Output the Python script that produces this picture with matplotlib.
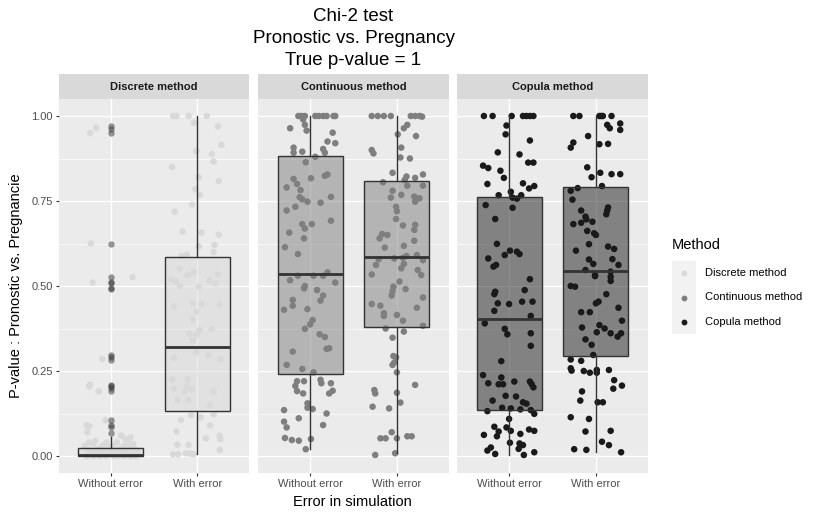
import matplotlib
matplotlib.use("Agg")
import matplotlib.pyplot as plt
from matplotlib.lines import Line2D
from matplotlib.patches import Rectangle

plt.rcParams['font.family'] = ['Liberation Sans', 'DejaVu Sans']

methods = ["Discrete method", "Continuous method", "Copula method"]
errors = ["Without error", "With error"]
colors = ["#d9d9d9", "#7f7f7f", "#1a1a1a"]

# box statistics, per method: [without error, with error]
whis_lo = [[0.0, 0.005], [0.02, 0.01], [0.003, 0.012]]
q1 = [[0.0, 0.132], [0.24, 0.38], [0.135, 0.293]]
med = [[0.002, 0.322], [0.535, 0.586], [0.403, 0.545]]
q3 = [[0.025, 0.584], [0.883, 0.81], [0.762, 0.79]]
whis_hi = [[0.057, 1.0], [1.0, 1.0], [1.0, 1.0]]
disc_outliers = [0.97, 0.961, 0.951, 0.625, 0.526, 0.511, 0.508, 0.493, 0.49,
                 0.297, 0.29, 0.283, 0.21, 0.205, 0.2, 0.19, 0.105, 0.09,
                 0.086, 0.067]

# jittered points: (offset from the category, p-value)
disc_without = [
    (-0.24, 0.95), (-0.17, 0.965), (-0.23, 0.625), (-0.21, 0.51), (0.25, 0.526),
    (-0.10, 0.285), (-0.25, 0.205), (-0.24, 0.21), (-0.14, 0.19), (-0.28, 0.09),
    (-0.25, 0.088), (-0.27, 0.07), (-0.06, 0.105), (0.12, 0.06), (0.17, 0.05),
    (0.23, 0.055), (0.26, 0.035), (-0.30, 0.03), (-0.27, 0.02), (-0.25, 0.04),
    (-0.22, 0.01), (-0.20, 0.035), (-0.18, 0.045), (-0.15, 0.02), (-0.12, 0.005),
    (-0.10, 0.03), (-0.08, 0.012), (-0.05, 0.04), (-0.03, 0.02), (0.0, 0.008),
    (0.02, 0.03), (0.05, 0.015), (0.07, 0.04), (0.10, 0.02), (0.12, 0.005),
    (0.15, 0.03), (0.18, 0.01), (0.20, 0.045), (0.22, 0.025), (0.25, 0.005),
    (0.28, 0.02), (0.30, 0.01), (-0.28, 0.0), (-0.20, 0.0), (-0.13, 0.0),
    (-0.06, 0.0), (0.03, 0.0), (0.09, 0.0), (0.16, 0.0), (0.23, 0.0),
    (0.29, 0.0), (-0.16, 0.01), (0.06, 0.005), (-0.23, 0.015), (0.13, 0.015),
    (-0.01, 0.025), (0.19, 0.035),
]
disc_with = [
    (-0.28, 1.0), (-0.24, 1.0), (-0.10, 1.0), (0.11, 1.0), (-0.04, 0.98),
    (0.24, 0.97), (0.28, 0.915), (-0.01, 0.897), (0.17, 0.888), (0.19, 0.866),
    (-0.29, 0.85), (0.02, 0.82), (0.25, 0.809), (-0.02, 0.785), (0.03, 0.768),
    (-0.06, 0.739), (-0.26, 0.719), (-0.17, 0.66), (0.05, 0.657), (0.25, 0.651),
    (0.20, 0.621), (0.02, 0.616), (0.19, 0.60), (-0.18, 0.588), (-0.12, 0.592),
    (-0.20, 0.55), (-0.04, 0.54), (-0.11, 0.532), (0.24, 0.534), (-0.30, 0.52),
    (-0.25, 0.515), (0.14, 0.516), (0.21, 0.508), (-0.20, 0.50), (0.02, 0.497),
    (-0.27, 0.44), (-0.05, 0.449), (0.05, 0.447), (0.26, 0.445), (-0.01, 0.424),
    (-0.05, 0.402), (0.17, 0.374), (-0.09, 0.36), (0.03, 0.37), (-0.01, 0.355),
    (-0.05, 0.34), (-0.27, 0.289), (-0.01, 0.305), (0.13, 0.297), (0.27, 0.285),
    (-0.29, 0.225), (-0.11, 0.225), (-0.12, 0.204), (-0.06, 0.195), (-0.14, 0.19),
    (0.19, 0.19), (-0.27, 0.198), (-0.23, 0.165), (-0.10, 0.166), (0.15, 0.15),
    (-0.19, 0.106), (-0.07, 0.12), (0.04, 0.113), (0.15, 0.09), (0.19, 0.123),
    (-0.24, 0.072), (0.26, 0.06), (0.27, 0.05), (0.10, 0.052), (-0.23, 0.033),
    (-0.10, 0.033), (0.26, 0.018), (-0.28, 0.005), (-0.22, 0.005), (-0.13, 0.008),
    (-0.08, 0.007), (-0.04, 0.005),
]
cont_without = [
    (-0.135, 1.0), (-0.10, 1.0), (-0.06, 1.0), (0.06, 1.0), (0.10, 1.0),
    (0.15, 1.0), (0.19, 1.0), (0.27, 1.0), (0.29, 1.0), (-0.08, 0.99),
    (-0.06, 0.974), (-0.04, 0.957), (-0.23, 0.964), (0.26, 0.951), (0.20, 0.925),
    (0.29, 0.92), (-0.19, 0.907), (-0.09, 0.895), (-0.19, 0.892), (0.15, 0.903),
    (0.17, 0.892), (0.06, 0.88), (-0.05, 0.864), (0.17, 0.824), (0.20, 0.828),
    (0.01, 0.817), (-0.19, 0.815), (-0.15, 0.80), (-0.27, 0.79), (-0.11, 0.782),
    (-0.12, 0.761), (-0.09, 0.755), (-0.03, 0.748), (0.24, 0.762), (0.12, 0.745),
    (-0.17, 0.733), (-0.27, 0.722), (0.24, 0.692), (-0.09, 0.682), (-0.06, 0.669),
    (0.02, 0.682), (-0.24, 0.657), (-0.07, 0.64), (-0.29, 0.614), (-0.14, 0.594),
    (-0.23, 0.517), (-0.14, 0.53), (0.04, 0.53), (0.15, 0.53), (0.29, 0.51),
    (0.20, 0.54), (-0.07, 0.493), (-0.06, 0.50), (0.08, 0.488), (0.15, 0.472),
    (0.12, 0.457), (-0.20, 0.459), (-0.20, 0.442), (-0.30, 0.43), (-0.03, 0.432),
    (0.03, 0.40), (0.0, 0.387), (-0.06, 0.374), (0.11, 0.358), (0.17, 0.35),
    (0.19, 0.315), (0.22, 0.317), (-0.20, 0.307), (-0.27, 0.268), (-0.09, 0.256),
    (0.04, 0.246), (-0.15, 0.22), (-0.07, 0.22), (0.12, 0.224), (0.13, 0.214),
    (0.24, 0.214), (-0.17, 0.206), (-0.15, 0.191), (-0.08, 0.184), (0.22, 0.184),
    (0.26, 0.192), (-0.03, 0.155), (-0.03, 0.142), (0.03, 0.138), (-0.30, 0.135),
    (0.19, 0.125), (-0.13, 0.111), (-0.30, 0.101), (-0.27, 0.084), (0.15, 0.091),
    (-0.29, 0.053), (-0.21, 0.047), (-0.13, 0.045), (0.01, 0.05), (-0.05, 0.02),
]
cont_with = [
    (-0.29, 1.0), (-0.22, 1.0), (-0.15, 1.0), (-0.07, 1.0), (0.16, 1.0),
    (0.21, 1.0), (0.26, 1.0), (0.29, 0.998), (0.12, 0.974), (0.08, 0.964),
    (0.01, 0.946), (0.22, 0.941), (0.05, 0.907), (-0.29, 0.90), (-0.27, 0.89),
    (0.04, 0.878), (0.15, 0.875), (-0.05, 0.833), (0.30, 0.828), (0.11, 0.822),
    (0.21, 0.818), (0.09, 0.812), (-0.16, 0.805), (0.12, 0.795), (0.30, 0.795),
    (-0.05, 0.78), (-0.07, 0.76), (0.05, 0.768), (0.20, 0.763), (0.26, 0.758),
    (0.21, 0.748), (-0.01, 0.733), (0.0, 0.72), (-0.01, 0.697), (0.07, 0.678),
    (0.21, 0.68), (0.20, 0.665), (-0.17, 0.653), (-0.20, 0.64), (-0.11, 0.65),
    (-0.14, 0.613), (0.08, 0.618), (0.20, 0.633), (-0.03, 0.581), (0.07, 0.583),
    (-0.21, 0.579), (0.11, 0.588), (0.23, 0.591), (0.30, 0.576), (0.08, 0.565),
    (0.05, 0.552), (-0.24, 0.562), (0.24, 0.547), (0.28, 0.532), (-0.29, 0.534),
    (0.03, 0.513), (-0.04, 0.498), (-0.05, 0.485), (0.10, 0.491), (-0.06, 0.472),
    (0.30, 0.466), (-0.29, 0.447), (-0.19, 0.442), (0.23, 0.436), (-0.15, 0.42),
    (-0.15, 0.412), (0.0, 0.415), (0.07, 0.398), (-0.13, 0.375), (0.08, 0.366),
    (0.30, 0.383), (-0.05, 0.348), (-0.04, 0.294), (-0.01, 0.29), (-0.05, 0.268),
    (-0.03, 0.275), (0.0, 0.246), (0.21, 0.209), (-0.26, 0.194), (-0.25, 0.184),
    (0.0, 0.186), (0.04, 0.157), (-0.28, 0.145), (-0.09, 0.14), (-0.06, 0.07),
    (-0.19, 0.052), (-0.13, 0.052), (0.0, 0.052), (0.12, 0.058), (0.17, 0.058),
    (-0.25, 0.003), (-0.02, 0.008),
]
cop_without = [
    (-0.29, 1.0), (-0.19, 1.0), (0.03, 1.0), (0.16, 1.0), (0.20, 1.0),
    (0.24, 1.0), (0.28, 1.0), (-0.03, 0.972), (-0.04, 0.946), (0.24, 0.928),
    (-0.13, 0.893), (0.12, 0.887), (0.22, 0.863), (0.28, 0.863), (-0.30, 0.854),
    (-0.24, 0.847), (-0.10, 0.839), (-0.06, 0.818), (-0.25, 0.80), (0.16, 0.802),
    (0.29, 0.794), (0.23, 0.787), (0.02, 0.777), (-0.12, 0.767), (0.04, 0.76),
    (0.09, 0.757), (0.14, 0.767), (-0.27, 0.738), (0.04, 0.73), (-0.16, 0.697),
    (-0.14, 0.624), (0.01, 0.604), (0.09, 0.601), (0.12, 0.594), (-0.05, 0.591),
    (-0.24, 0.581), (-0.15, 0.562), (-0.18, 0.557), (0.24, 0.52), (0.18, 0.488),
    (-0.16, 0.483), (-0.17, 0.476), (-0.13, 0.449), (0.0, 0.447), (0.15, 0.454),
    (0.27, 0.454), (-0.17, 0.427), (0.25, 0.412), (-0.28, 0.39), (-0.05, 0.374),
    (-0.02, 0.358), (0.25, 0.361), (0.25, 0.324), (-0.09, 0.279), (-0.30, 0.238),
    (-0.09, 0.231), (-0.24, 0.214), (-0.12, 0.211), (-0.07, 0.211), (0.06, 0.219),
    (0.24, 0.219), (0.26, 0.211), (0.28, 0.202), (-0.04, 0.177), (0.08, 0.175),
    (-0.19, 0.163), (0.16, 0.158), (0.20, 0.154), (-0.08, 0.142), (0.02, 0.14),
    (0.13, 0.137), (-0.25, 0.132), (0.25, 0.135), (0.29, 0.124), (0.0, 0.109),
    (-0.17, 0.086), (-0.03, 0.084), (-0.12, 0.072), (-0.14, 0.058), (-0.29, 0.062),
    (0.02, 0.074), (0.13, 0.065), (0.23, 0.078), (0.29, 0.074), (0.01, 0.039),
    (0.12, 0.037), (0.16, 0.032), (0.11, 0.021), (-0.21, 0.025), (-0.25, 0.016),
    (-0.16, 0.006), (0.17, 0.003), (0.29, 0.011),
]
cop_with = [
    (-0.26, 1.0), (-0.19, 1.0), (0.04, 1.0), (0.06, 1.0), (0.08, 1.0),
    (0.18, 1.0), (0.13, 0.974), (0.16, 0.964), (0.28, 0.978), (0.28, 0.959),
    (-0.09, 0.941), (-0.26, 0.922), (-0.29, 0.907), (0.04, 0.917), (0.14, 0.918),
    (-0.10, 0.849), (0.05, 0.833), (0.18, 0.829), (0.28, 0.829), (-0.05, 0.82),
    (0.07, 0.794), (-0.21, 0.788), (-0.29, 0.78), (-0.27, 0.754), (0.14, 0.731),
    (0.13, 0.722), (-0.17, 0.722), (0.12, 0.711), (-0.12, 0.704), (-0.11, 0.696),
    (-0.17, 0.686), (-0.26, 0.682), (-0.04, 0.689), (-0.10, 0.662), (-0.02, 0.655),
    (0.0, 0.65), (-0.08, 0.623), (0.14, 0.616), (0.21, 0.609), (-0.23, 0.604),
    (-0.08, 0.578), (-0.03, 0.565), (0.19, 0.579), (0.26, 0.562), (-0.12, 0.547),
    (-0.01, 0.532), (0.17, 0.542), (0.17, 0.527), (-0.01, 0.529), (0.17, 0.515),
    (-0.29, 0.50), (-0.24, 0.498), (0.12, 0.476), (0.0, 0.449), (0.03, 0.454),
    (0.26, 0.436), (-0.17, 0.423), (-0.07, 0.423), (0.30, 0.398), (-0.16, 0.378),
    (0.04, 0.385), (0.10, 0.375), (0.01, 0.364), (0.17, 0.361), (0.25, 0.351),
    (0.29, 0.361), (-0.12, 0.343), (-0.05, 0.327), (-0.03, 0.297), (-0.29, 0.284),
    (-0.17, 0.28), (-0.29, 0.258), (-0.28, 0.251), (-0.14, 0.25), (-0.07, 0.245),
    (0.01, 0.253), (0.01, 0.245), (0.15, 0.253), (0.21, 0.223), (0.30, 0.207),
    (0.20, 0.198), (-0.16, 0.19), (-0.18, 0.163), (0.02, 0.158), (0.08, 0.158),
    (-0.29, 0.114), (-0.08, 0.109), (-0.12, 0.072), (0.17, 0.074), (0.07, 0.042),
    (0.15, 0.032), (-0.25, 0.02), (-0.11, 0.018), (0.29, 0.011),
]
points = [[disc_without, disc_with], [cont_without, cont_with],
          [cop_without, cop_with]]

W, H = 830, 519


def rect(left, top, right, bottom):
    # pixel box -> figure fraction
    return [left / W, 1 - bottom / H, (right - left) / W, (bottom - top) / H]


fig = plt.figure(figsize=(W / 100, H / 100), dpi=100)
fig.patch.set_facecolor("white")

panel_x = [(59, 249), (258, 449), (457, 648)]
for i, m in enumerate(methods):
    l, r = panel_x[i]
    ax = fig.add_axes(rect(l, 99, r, 473))
    ax.set_facecolor("#ebebeb")
    ax.set_xlim(0.4, 2.6)
    ax.set_ylim(-0.05, 1.05)
    ax.set_yticks([0, 0.25, 0.5, 0.75, 1.0])
    ax.set_yticks([0.125, 0.375, 0.625, 0.875], minor=True)
    ax.set_xticks([1, 2])
    ax.set_xticklabels(errors)
    ax.grid(which="major", color="white", linewidth=1.0)
    ax.grid(which="minor", axis="y", color="white", linewidth=0.5)
    ax.set_axisbelow(True)
    for s in ax.spines.values():
        s.set_visible(False)
    ax.tick_params(which="major", length=2.5, width=0.8, color="#333333",
                   labelsize=8, labelcolor="#4d4d4d", pad=2)
    ax.tick_params(which="minor", length=0)
    if i == 0:
        ax.set_yticklabels(["0.00", "0.25", "0.50", "0.75", "1.00"])
    else:
        ax.tick_params(axis="y", which="major", length=0, labelleft=False)

    # jitter first, boxes drawn over it with a half transparent fill
    for j in range(2):
        pts = points[i][j]
        ax.scatter([j + 1 + p[0] for p in pts], [p[1] for p in pts],
                   s=22, color=colors[i], edgecolors="none", zorder=2)

    stats = []
    for j in range(2):
        stats.append(dict(med=med[i][j], q1=q1[i][j], q3=q3[i][j],
                          whislo=whis_lo[i][j], whishi=whis_hi[i][j],
                          fliers=disc_outliers if (i == 0 and j == 0) else []))
    ax.bxp(stats, positions=[1, 2], widths=0.75, patch_artist=True,
           showcaps=False, manage_ticks=False, zorder=3,
           boxprops=dict(facecolor=matplotlib.colors.to_rgba(colors[i], 0.5),
                         edgecolor="#333333", linewidth=1.0),
           medianprops=dict(color="#333333", linewidth=2.0),
           whiskerprops=dict(color="#333333", linewidth=1.0),
           flierprops=dict(marker="o", markersize=4.6,
                           markerfacecolor=(0.2, 0.2, 0.2, 0.5),
                           markeredgecolor="none"))

    sx = fig.add_axes(rect(l, 74, r, 99))
    sx.set_facecolor("#d9d9d9")
    sx.set_xticks([])
    sx.set_yticks([])
    for s in sx.spines.values():
        s.set_visible(False)
    sx.text(0.5, 0.5, m, ha="center", va="center", fontsize=8,
            fontweight="bold", color="#1a1a1a", transform=sx.transAxes)

fig.text(353.5 / W, 1 - 8 / H, "Chi-2 test\nPronostic vs. Pregnancy\nTrue p-value = 1",
         ha="center", va="top", fontsize=13.5, linespacing=1.38)
fig.text(352.5 / W, 1 - 502 / H, "Error in simulation", ha="center",
         va="center", fontsize=10.5)
fig.text(16 / W, 1 - 286 / H, "P-value : Pronostic vs. Pregnancie",
         ha="center", va="center", rotation=90, fontsize=10.5)

# legend
fig.text(672 / W, 1 - 245 / H, "Method", ha="left", va="center", fontsize=10.5)
fig.patches.append(Rectangle((672 / W, 1 - 334 / H), 24 / W, 73 / H,
                             transform=fig.transFigure, facecolor="#f2f2f2",
                             edgecolor="none"))
for k, (m, c) in enumerate(zip(methods, colors)):
    yk = 1 - (273 + 24.5 * k) / H
    fig.lines.append(Line2D([684 / W], [yk], marker="o", markersize=4.2,
                            color=c, markeredgecolor="none",
                            transform=fig.transFigure))
    fig.text(705 / W, yk, m, ha="left", va="center", fontsize=8)

fig.savefig("out.png", dpi=100)
